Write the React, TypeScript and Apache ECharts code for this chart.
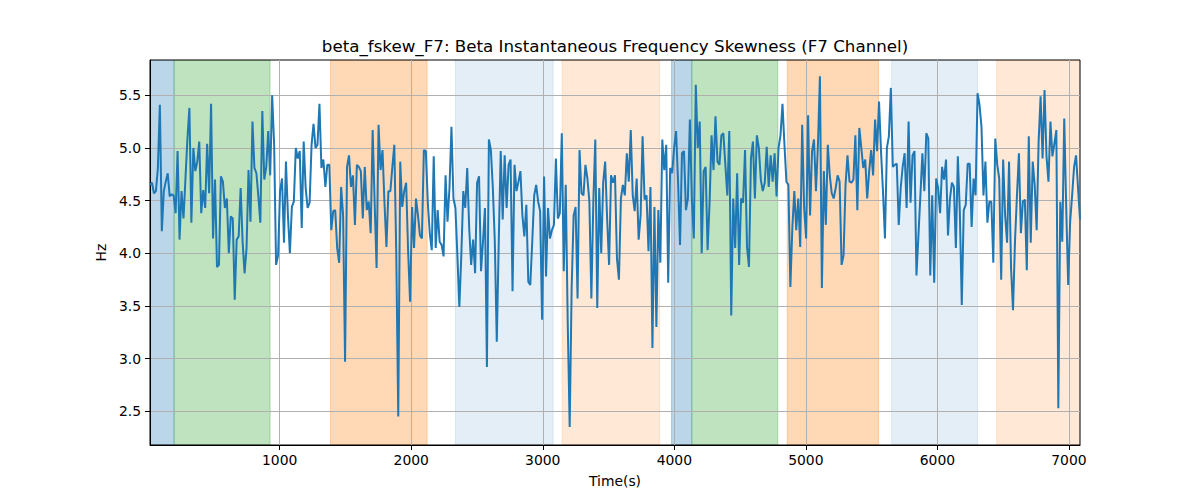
import React, { useEffect, useRef } from 'react';
import * as echarts from 'echarts';

// beta_fskew_F7 samples left to right
const skewPart1 = [
  4.65, 4.67, 4.57, 4.59, 4.81, 5.41, 4.21, 4.59, 4.68, 4.76, 4.54, 4.56, 4.55, 4.38, 4.97, 4.13, 4.59, 4.33, 4.71, 5.09,
  5.38, 4.29, 5.0, 4.78, 4.87, 5.06, 4.38, 4.6, 4.43, 5.04, 4.57, 5.42, 4.14, 4.7, 3.87, 3.89, 4.73, 4.68, 4.43, 4.52,
  4.0, 4.35, 4.33, 3.56, 4.13, 4.16, 4.62, 4.11, 3.81, 4.05, 4.79, 4.3, 5.25, 4.81, 4.76, 4.54, 4.29, 5.35, 4.7, 4.82,
  5.16, 4.74, 5.5, 5.03, 3.89, 3.98, 4.59, 4.71, 4.1, 4.87, 4.36, 4.0, 4.44, 4.49, 5.0, 4.9, 4.97, 4.24, 5.06,
];
const skewPart2 = [
  4.62, 4.43, 4.48, 5.03, 5.23, 5.0, 5.03, 5.42, 4.81, 4.89, 4.63, 4.84, 4.84, 4.22, 4.4, 4.41, 4.05, 3.91, 4.63, 4.36,
  2.97, 4.82, 4.93, 4.63, 4.74, 4.27, 4.84, 4.82, 4.78, 4.33, 4.82, 4.41, 4.49, 4.19, 5.17, 4.49, 3.86, 5.22, 4.79, 4.98,
  4.48, 4.06, 4.59, 4.59, 4.82, 5.03, 3.98, 2.45, 4.87, 4.44, 4.59, 4.67, 4.02, 3.54, 4.44, 4.05, 4.52, 4.36, 4.17, 4.14,
  4.98, 4.97, 4.48, 4.19, 4.03, 4.92, 4.05, 4.41, 4.11, 4.08, 3.97, 4.74, 4.3, 4.62, 5.2, 4.52, 4.43, 3.98, 3.49,
];
const skewPart3 = [
  3.98, 4.59, 4.43, 4.81, 4.24, 3.89, 4.13, 3.81, 4.67, 4.73, 3.83, 4.11, 4.43, 2.92, 5.08, 4.98, 4.62, 4.11, 3.16, 4.11,
  4.97, 4.32, 4.93, 4.43, 4.84, 4.89, 3.64, 4.84, 4.59, 4.68, 4.78, 4.36, 4.16, 4.46, 3.73, 3.7, 4.11, 4.55, 4.65, 4.49,
  4.4, 3.37, 4.73, 3.78, 4.43, 4.14, 4.22, 4.27, 4.9, 4.33, 4.38, 5.14, 3.83, 4.65, 3.35, 2.35, 3.67, 4.36, 4.44, 3.57,
  4.98, 4.57, 4.55, 4.84, 4.71, 4.49, 3.57, 4.49, 5.08, 3.48, 4.62, 4.0, 4.67, 4.87, 4.33, 3.89, 4.74, 4.67, 4.74,
];
const skewPart4 = [
  3.95, 3.75, 4.52, 4.65, 4.55, 4.95, 4.68, 5.17, 4.55, 4.4, 4.71, 4.13, 4.36, 5.11, 4.51, 4.55, 4.02, 4.63, 3.1, 4.44,
  3.3, 4.41, 3.91, 5.08, 4.79, 5.03, 3.72, 4.81, 4.76, 5.0, 5.16, 4.68, 4.08, 4.95, 4.97, 4.41, 4.52, 5.27, 4.52, 4.14,
  5.6, 5.0, 5.25, 4.0, 4.78, 4.82, 4.03, 4.48, 5.12, 4.79, 5.3, 4.87, 4.84, 5.12, 5.14, 4.84, 4.55, 5.16, 3.41, 4.52,
  4.05, 4.76, 3.89, 4.52, 4.48, 4.98, 4.06, 3.87, 4.9, 5.06, 4.52, 5.12, 5.0, 4.7, 4.59, 4.67, 5.01, 4.63, 4.93,
];
const skewPart5 = [
  4.68, 4.95, 4.54, 5.0, 5.12, 5.42, 5.03, 4.68, 4.65, 3.68, 4.24, 4.59, 4.22, 4.52, 4.06, 5.22, 4.43, 4.14, 5.31, 4.36,
  4.97, 5.08, 4.59, 5.03, 5.68, 3.67, 4.78, 4.27, 5.03, 4.74, 4.57, 4.52, 4.62, 4.74, 4.68, 3.89, 3.98, 4.65, 4.93, 4.68,
  4.67, 4.7, 5.12, 4.41, 5.19, 5.0, 4.81, 4.89, 4.52, 4.78, 4.98, 4.74, 5.27, 4.97, 5.44, 4.97, 4.59, 4.14, 5.0, 5.11,
  5.57, 4.82, 4.84, 4.85, 4.27, 4.62, 4.82, 4.95, 4.43, 5.25, 4.48, 4.93, 4.97, 3.79, 4.17, 4.55, 4.95, 4.59,
];
const skewPart6 = [
  5.14, 5.09, 3.79, 4.55, 3.72, 4.71, 4.62, 4.38, 4.82, 4.7, 4.89, 4.17, 4.52, 4.67, 4.63, 4.05, 4.92, 4.4, 3.51, 4.41,
  4.46, 4.85, 4.85, 4.25, 4.71, 4.55, 5.52, 5.41, 5.2, 4.55, 4.87, 4.29, 4.49, 4.49, 3.91, 5.09, 4.84, 4.71, 3.75, 4.89,
  4.36, 4.1, 4.87, 3.86, 3.46, 4.11, 4.55, 4.95, 4.19, 4.49, 4.51, 3.84, 5.11, 4.1, 4.87, 4.65, 4.22, 5.06, 5.49, 4.9,
  5.55, 4.92, 4.68, 5.25, 4.92, 5.04, 5.17, 2.53, 4.49, 4.11, 5.28, 4.44, 3.7, 4.3, 4.55, 4.82, 4.93, 4.62, 4.32,
];

const TIME_START = 14;
const TIME_END = 7084;

// shaded sections (seconds)
const regionStarts = [14, 197, 1386, 2336, 3147, 3979, 4133, 4858, 5652, 6450];
const regionEnds = [197, 927, 2121, 3079, 3888, 4133, 4787, 5553, 6306, 7084];
const regionKinds = ['blue', 'green', 'orange', 'paleBlue', 'paleOrange', 'blue', 'green', 'orange', 'paleBlue', 'paleOrange'];

const xTickValues = [1000, 2000, 3000, 4000, 5000, 6000, 7000];
const yTickValues = [2.5, 3.0, 3.5, 4.0, 4.5, 5.0, 5.5];

const regionColors: Record<string, string> = {
  blue: 'rgba(31,119,180,0.3)',
  green: 'rgba(44,160,44,0.3)',
  orange: 'rgba(255,127,14,0.3)',
  paleBlue: 'rgba(31,119,180,0.12)',
  paleOrange: 'rgba(255,127,14,0.17)',
};

const FONT = 'DejaVu Sans';

const App: React.FC = () => {
  const chartRef = useRef<HTMLDivElement>(null);

  useEffect(() => {
    if (!chartRef.current) return;
    const chart = echarts.init(chartRef.current, undefined, { renderer: 'svg' });

    const values = [...skewPart1, ...skewPart2, ...skewPart3, ...skewPart4, ...skewPart5, ...skewPart6];
    const step = (TIME_END - TIME_START) / (values.length - 1);
    const lineData = values.map((v, i) => [TIME_START + i * step, v]);

    chart.setOption({
      animation: false,
      textStyle: { fontFamily: FONT },
      grid: {
        left: 150,
        right: 120,
        top: 60,
        bottom: 55,
        show: true,
        borderColor: '#000',
        borderWidth: 1,
        backgroundColor: 'transparent',
      },
      graphic: [
        {
          type: 'text',
          x: 615,
          y: 46,
          style: {
            text: 'beta_fskew_F7: Beta Instantaneous Frequency Skewness (F7 Channel)',
            font: `16.7px "${FONT}"`,
            fill: '#000',
            align: 'center',
            verticalAlign: 'middle',
          },
        },
      ],
      xAxis: {
        type: 'value',
        min: TIME_START,
        max: TIME_END,
        name: 'Time(s)',
        nameLocation: 'middle',
        nameGap: 29,
        nameTextStyle: { color: '#000', fontSize: 13.9, fontFamily: FONT },
        axisLine: { lineStyle: { color: '#000', width: 1 } },
        axisTick: { show: true, length: 5, lineStyle: { color: '#000' }, customValues: xTickValues },
        axisLabel: {
          color: '#000',
          fontSize: 13.9,
          fontFamily: FONT,
          margin: 8,
          customValues: xTickValues,
          formatter: (v: number) => String(v),
        },
        splitLine: { show: true, lineStyle: { color: '#b0b0b0', width: 1 } },
      },
      yAxis: {
        type: 'value',
        min: 2.18,
        max: 5.835,
        name: 'Hz',
        nameLocation: 'middle',
        nameGap: 35,
        nameTextStyle: { color: '#000', fontSize: 13.9, fontFamily: FONT },
        axisLine: { show: true, lineStyle: { color: '#000', width: 1 } },
        axisTick: { show: true, length: 5, lineStyle: { color: '#000' }, customValues: yTickValues },
        axisLabel: {
          color: '#000',
          fontSize: 13.9,
          fontFamily: FONT,
          margin: 9,
          customValues: yTickValues,
          formatter: (v: number) => v.toFixed(1),
        },
        splitLine: { show: true, lineStyle: { color: '#b0b0b0', width: 1 } },
      },
      series: [
        {
          type: 'custom',
          z: -1,
          clip: true,
          silent: true,
          data: regionStarts.map((s, i) => [s, regionEnds[i]]),
          encode: { x: [0, 1] },
          renderItem: (params: any, api: any) => {
            const start = api.coord([api.value(0), 4]);
            const end = api.coord([api.value(1), 4]);
            const cs = params.coordSys;
            const color = regionColors[regionKinds[params.dataIndex]];
            return {
              type: 'rect',
              shape: { x: start[0], y: cs.y, width: end[0] - start[0], height: cs.height },
              style: { fill: color, stroke: color, lineWidth: 1 },
            };
          },
        },
        {
          type: 'line',
          z: 3,
          data: lineData,
          showSymbol: false,
          symbol: 'none',
          lineStyle: { color: '#1f77b4', width: 2 },
        },
      ],
    });

    return () => {
      chart.dispose();
    };
  }, []);

  return (
    <div
      ref={chartRef}
      style={{ position: 'fixed', left: 0, top: 0, width: 1200, height: 500, background: '#fff' }}
    />
  );
};

export default App;
